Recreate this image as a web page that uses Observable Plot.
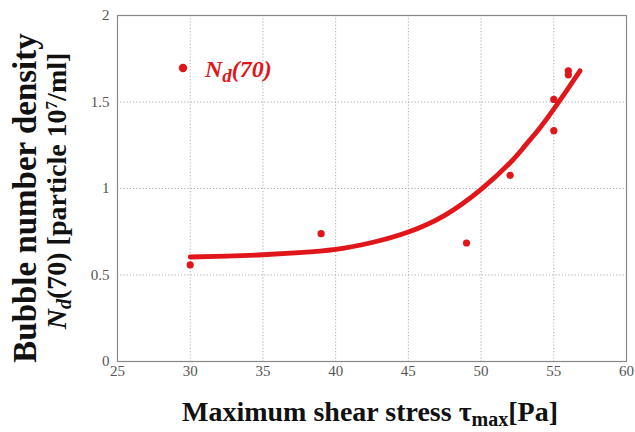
<!DOCTYPE html>
<html><head><meta charset="utf-8">
<script src="https://cdn.jsdelivr.net/npm/d3@7"></script>
<script src="https://cdn.jsdelivr.net/npm/@observablehq/plot@0.6"></script>
<style>body{margin:0;background:#fff;} svg{display:block;}</style>
</head><body><div id="chart"></div>
<script>
const pointX = [30, 39, 49, 52, 55, 55, 56, 56];
const pointY = [0.558, 0.739, 0.685, 1.076, 1.334, 1.515, 1.68, 1.657];
const fitX = [30, 32.5, 35, 37.5, 40, 42.5, 45, 47.5, 50, 52, 53, 54, 55, 56, 56.8];
const fitY = [0.604, 0.609, 0.617, 0.629, 0.648, 0.688, 0.749, 0.845, 0.995, 1.149, 1.245, 1.346, 1.459, 1.58, 1.68];
const xTicks = [25, 30, 35, 40, 45, 50, 55, 60];
const yTicks = [0, 0.5, 1, 1.5, 2];
const legendLabel = "(70)";

const points = pointX.map((x, i) => ({x, y: pointY[i]}));
const fit = fitX.map((x, i) => ({x, y: fitY[i]}));
const red = "#e0161a";
const serif = "'Liberation Serif', 'Times New Roman', 'DejaVu Serif', serif";

const svg = Plot.plot({
  width: 635, height: 432,
  marginLeft: 117, marginRight: 9, marginTop: 15, marginBottom: 71,
  style: {fontFamily: serif, background: "#fff"},
  x: {domain: [25, 60], label: null},
  y: {domain: [0, 2], label: null},
  marks: [
    Plot.gridX(xTicks, {stroke: "#999", strokeOpacity: 0.8, strokeDasharray: "1.2,2"}),
    Plot.gridY(yTicks, {stroke: "#999", strokeOpacity: 0.8, strokeDasharray: "1.2,2"}),
    Plot.axisX(xTicks, {tickSize: 0, tickPadding: 4, fontFamily: serif, fontSize: 15, fill: "#555", label: null}),
    Plot.axisY(yTicks, {tickSize: 0, tickPadding: 8, fontFamily: serif, fontSize: 15, fill: "#555", label: null, tickFormat: d => String(d)}),
    Plot.frame({stroke: "#888", strokeWidth: 1.2}),
    Plot.line(fit, {x: "x", y: "y", stroke: red, strokeWidth: 4.8, curve: "natural"}),
    Plot.dot(points, {x: "x", y: "y", r: 3.6, fill: red, stroke: "none"})
  ]
});
document.getElementById("chart").appendChild(svg);

const s = d3.select(svg);
// Legend
s.append("circle").attr("cx", 183).attr("cy", 68).attr("r", 4.2).attr("fill", red);
const lg = s.append("text").attr("x", 205).attr("y", 77).attr("text-anchor", "start")
  .attr("font-family", serif).attr("font-size", 24).attr("font-weight", "bold")
  .attr("font-style", "italic").attr("fill", red);
lg.append("tspan").text("N");
lg.append("tspan").attr("dy", 5).attr("font-size", 19).text("d");
lg.append("tspan").attr("dy", -5).text(legendLabel);

// X label
const xl = s.append("text").attr("x", 370).attr("y", 421).attr("text-anchor", "middle")
  .attr("font-family", serif).attr("font-size", 28).attr("font-weight", "bold").attr("fill", "#111");
xl.append("tspan").text("Maximum shear stress τ");
xl.append("tspan").attr("dy", 5).attr("font-size", 20).text("max");
xl.append("tspan").attr("dy", -5).text("[Pa]");

// Y labels
s.append("text").attr("transform", "translate(36,198) rotate(-90)").attr("text-anchor", "middle")
  .attr("font-family", serif).attr("font-size", 33).attr("font-weight", "bold").attr("fill", "#111")
  .text("Bubble number density");
const yl2 = s.append("text").attr("transform", "translate(66,191) rotate(-90)").attr("text-anchor", "middle")
  .attr("font-family", serif).attr("font-size", 28).attr("font-weight", "bold").attr("fill", "#111");
yl2.append("tspan").attr("font-style", "italic").text("N");
yl2.append("tspan").attr("dy", 5).attr("font-size", 20).attr("font-style", "italic").text("d");
yl2.append("tspan").attr("dy", -5).text("(70) [particle 10");
yl2.append("tspan").attr("dy", -9).attr("font-size", 17).text("7");
yl2.append("tspan").attr("dy", 9).text("/ml]");
</script></body></html>
